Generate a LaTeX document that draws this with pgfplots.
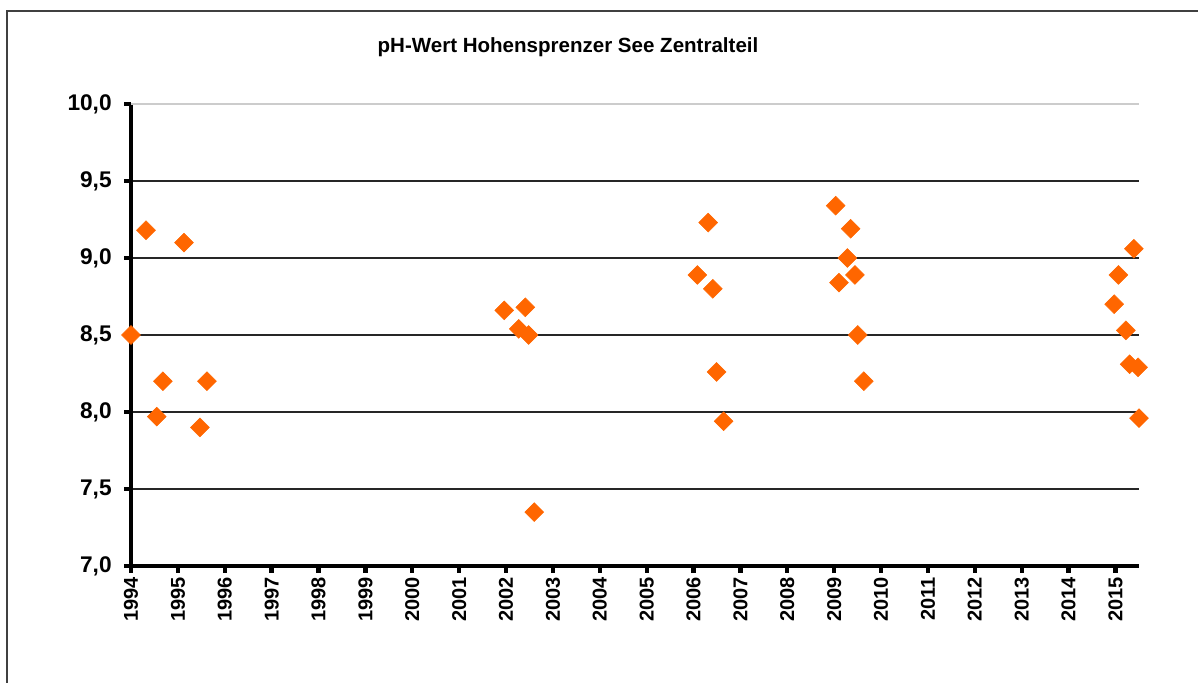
\documentclass[border=0pt]{standalone}
\usepackage{pgfplots}
\pgfplotsset{compat=1.18}
\usepackage{fontspec}
\setmainfont{Liberation Sans}
\definecolor{dotorange}{HTML}{FF6600}
\begin{document}
\begin{tikzpicture}
\path[use as bounding box] (0pt,0pt) rectangle (898.5pt,511.5pt);
\draw[black!75, line width=1.2pt] (5.25pt,-5pt) -- (5.25pt,503.25pt) -- (905pt,503.25pt);
\node[font=\bfseries\fontsize{15.4}{18}\selectfont, anchor=base, inner sep=0pt] at (426pt,472pt) {pH-Wert Hohensprenzer See Zentralteil};
\begin{axis}[
  at={(98.25pt,87pt)}, anchor=south west,
  scale only axis, width=756pt, height=346.5pt,
  xmin=1994, xmax=2015.5, ymin=7, ymax=10,
  clip=false,
  axis x line*=bottom, axis y line*=left,
  axis line style={-, line width=3.2pt, black},
  xtick={1994,...,2015},
  ytick={7,7.5,8,8.5,9,9.5},
  extra y ticks={10},
  extra y tick style={grid style={black!20, line width=1pt}},
  tick align=outside,
  major tick length=5pt,
  tick style={line width=3.2pt, black},
  ymajorgrids,
  grid style={black!85, line width=0.9pt},
  /pgf/number format/assume math mode=true,
  x tick label style={rotate=90, anchor=east, font=\bfseries\fontsize{15}{18}\selectfont, /pgf/number format/1000 sep={}},
  xticklabel={\pgfmathprintnumber[1000 sep={}]{\tick}},
  y tick label style={xshift=-6pt, font=\bfseries\fontsize{17}{20}\selectfont, /pgf/number format/.cd, fixed, fixed zerofill, precision=1, use comma},
]
\addplot[only marks, mark=square*, mark size=5pt, mark options={rotate=45, fill=dotorange, draw=dotorange}] coordinates {
(1994.00, 8.50)
(1994.32, 9.18)
(1994.55, 7.97)
(1994.68, 8.20)
(1995.13, 9.10)
(1995.47, 7.90)
(1995.62, 8.20)
(2001.96, 8.66)
(2002.27, 8.54)
(2002.41, 8.68)
(2002.48, 8.50)
(2002.60, 7.35)
(2006.08, 8.89)
(2006.31, 9.23)
(2006.41, 8.80)
(2006.49, 8.26)
(2006.64, 7.94)
(2009.03, 9.34)
(2009.10, 8.84)
(2009.28, 9.00)
(2009.35, 9.19)
(2009.44, 8.89)
(2009.50, 8.50)
(2009.63, 8.20)
(2014.97, 8.70)
(2015.06, 8.89)
(2015.22, 8.53)
(2015.30, 8.31)
(2015.39, 9.06)
(2015.48, 8.29)
(2015.50, 7.96)
};
\end{axis}
\end{tikzpicture}
\end{document}
